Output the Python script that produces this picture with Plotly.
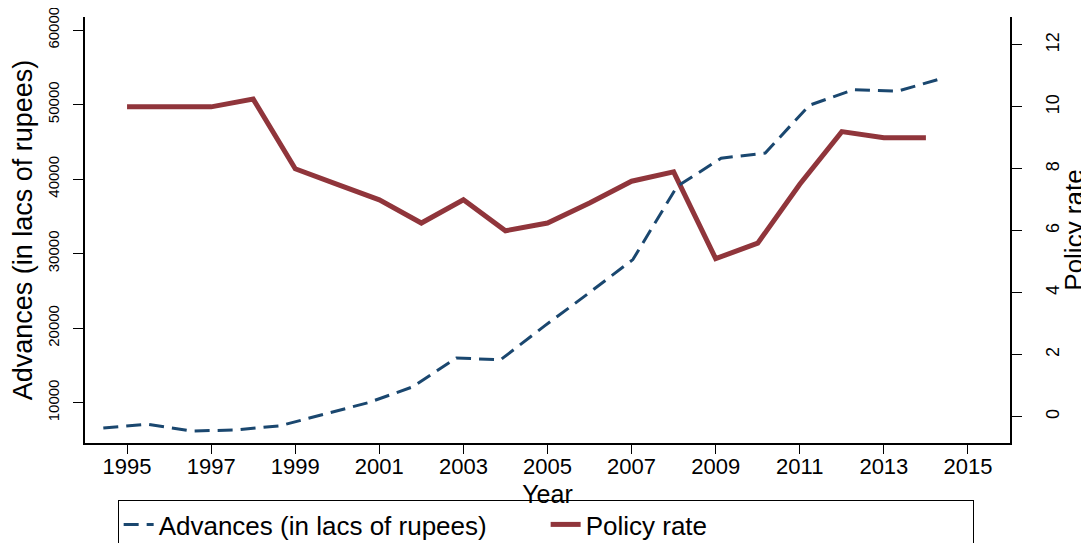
import plotly.graph_objects as go

# Data
years = list(range(1995, 2015))
advances = [6600, 7100, 6200, 6340, 6900, 8400, 10000, 12100, 16000, 15750,
            20300, 24700, 29200, 39000, 42800, 43500, 49900, 52000, 51800, 53500]
policy_rate = [10.0, 10.0, 10.0, 10.25, 8.0, 7.5, 7.0, 6.25, 7.0, 6.0,
               6.25, 6.9, 7.6, 7.9, 5.1, 5.6, 7.5, 9.2, 9.0, 9.0]

x_ticks = list(range(1995, 2016, 2))
left_ticks = [10000, 20000, 30000, 40000, 50000, 60000]
right_ticks = [0, 2, 4, 6, 8, 10, 12]
grid_ticks = [2, 4, 6, 8, 10]

FONT = "Liberation Sans, Arial, Helvetica, sans-serif"
NAVY = "#1a476f"
CRANBERRY = "#90353b"

fig = go.Figure()
fig.add_trace(go.Scatter(
    x=years, y=advances, name="Advances (in lacs of rupees)",
    mode="lines", xaxis="x2", yaxis="y2",
    line=dict(color=NAVY, width=3, dash="15px,8px"),
))
fig.add_trace(go.Scatter(
    x=years, y=policy_rate, name="Policy rate",
    mode="lines", xaxis="x", yaxis="y",
    line=dict(color=CRANBERRY, width=5),
))

axis_common = dict(showline=True, linecolor="black", linewidth=1.5,
                   ticks="outside", tickcolor="black", tickwidth=1.2,
                   zeroline=False, automargin=False)

fig.update_layout(
    width=1081, height=535,
    margin=dict(l=77, r=79, t=9, b=100, autoexpand=False),
    paper_bgcolor="white", plot_bgcolor="white",
    font=dict(family=FONT, color="black", size=22),
    showlegend=True,
    xaxis=dict(range=[1994, 2016], tickvals=x_ticks, showgrid=False,
               tickfont=dict(size=22), ticklen=9, ticklabelstandoff=-6,
               anchor="y", **axis_common),
    # hidden year scale of the advances series; carries the "Year" title
    xaxis2=dict(range=[1994.585, 2015.546], overlaying="x", anchor="y2",
                side="bottom", showticklabels=False, ticks="", showline=False,
                showgrid=False, zeroline=False, automargin=False,
                title=dict(text="Year", font=dict(size=25), standoff=42)),
    # policy rate axis (right)
    yaxis=dict(range=[-0.85, 12.9], tickvals=right_ticks, tickangle=-90,
               side="right", showgrid=False, tickfont=dict(size=18),
               ticklen=10, ticklabelstandoff=16, ticklabeloverflow="allow",
               title=dict(text="Policy rate", font=dict(size=26), standoff=2),
               anchor="x", **axis_common),
    # advances axis (left)
    yaxis2=dict(range=[4594, 61744], tickvals=left_ticks, tickangle=-90,
                tickformat="d", overlaying="y", side="left", showgrid=False,
                tickfont=dict(size=15), ticklen=10, ticklabelstandoff=8,
                ticklabeloverflow="allow",
                title=dict(text="Advances (in lacs of rupees)", font=dict(size=27),
                           standoff=8),
                anchor="x", **axis_common),
    # gridlines at the inner policy-rate ticks only
    yaxis3=dict(range=[-0.85, 12.9], tickvals=grid_ticks, overlaying="y",
                side="right", showgrid=True, gridcolor="#e6eff0", gridwidth=1.5,
                showticklabels=False, ticks="", showline=False, zeroline=False,
                anchor="x", automargin=False),
    legend=dict(orientation="h", x=0.498, xanchor="center", y=-0.1338,
                yanchor="top", bordercolor="black", borderwidth=1,
                bgcolor="white", font=dict(size=26),
                entrywidth=382, entrywidthmode="pixels", traceorder="normal"),
)

fig.write_html("out.html")
